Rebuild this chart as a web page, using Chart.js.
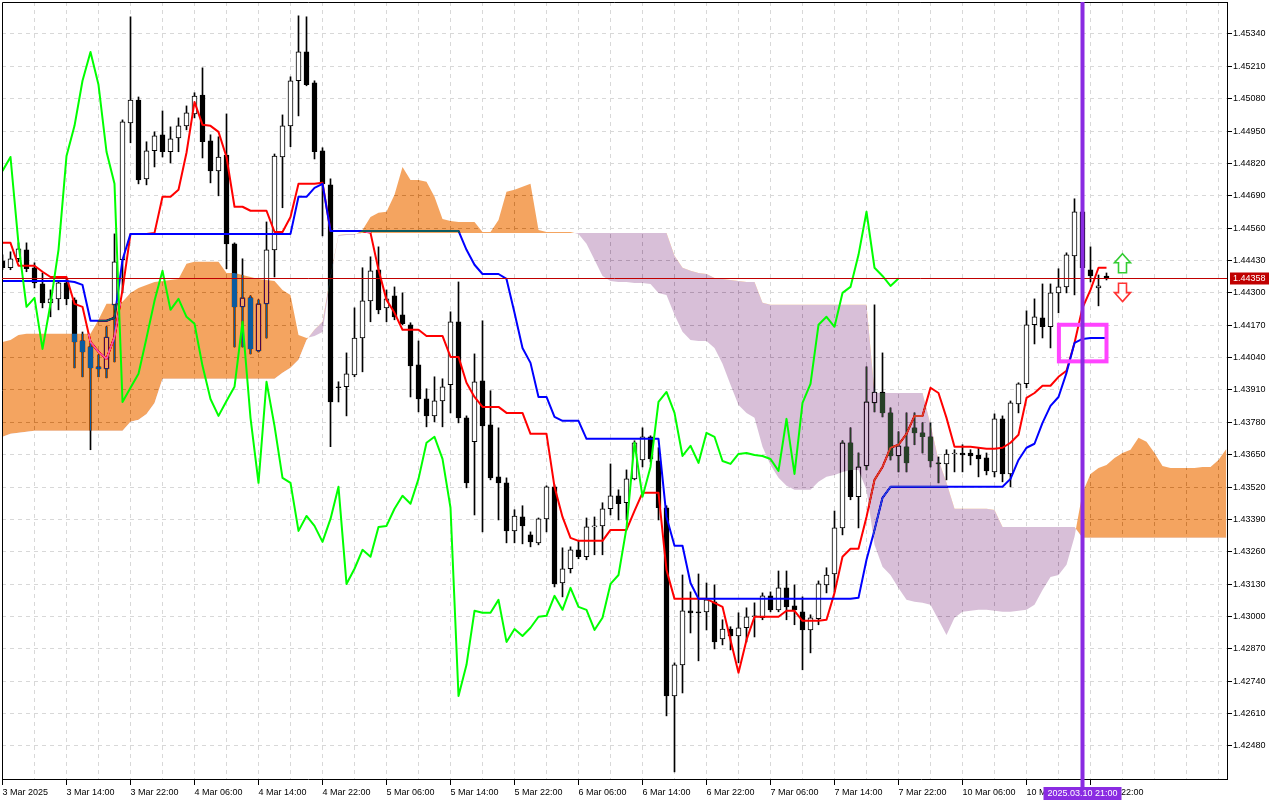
<!DOCTYPE html>
<html>
<head>
<meta charset="utf-8">
<title>GBPUSD-like Ichimoku H1</title>
<script src="https://cdn.jsdelivr.net/npm/chart.js@4.4.1/dist/chart.umd.min.js"></script>
<style>
  html, body { margin: 0; padding: 0; background: #fff; }
  canvas { display: block; }
</style>
</head>
<body>
<canvas id="chart" width="1280" height="800"></canvas>
<script>
// hourly candles, index 0 = 3 Mar 06:00
const opens = [
  1.44429, 1.44401, 1.44437, 1.44473, 1.44401, 1.44336, 1.44260, 1.44276, 1.44340, 1.44272,
  1.44107, 1.44083, 1.44003, 1.43995, 1.44252, 1.44433, 1.44983, 1.45075, 1.44758, 1.44871,
  1.44935, 1.44867, 1.44923, 1.44971, 1.45019, 1.45095, 1.44911, 1.44790, 1.44854, 1.44497,
  1.44244, 1.44280, 1.44067, 1.44256, 1.44473, 1.44846, 1.44971, 1.45152, 1.45268, 1.45144,
  1.44871, 1.44734, 1.43923, 1.43923, 1.43971, 1.44119, 1.44268, 1.44393, 1.44240, 1.44288,
  1.44212, 1.44172, 1.44011, 1.43874, 1.43806, 1.43866, 1.43931, 1.44184, 1.43798, 1.43702,
  1.43947, 1.43770, 1.43561, 1.43537, 1.43344, 1.43400, 1.43328, 1.43296, 1.43392, 1.43521,
  1.43135, 1.43192, 1.43268, 1.43240, 1.43360, 1.43364, 1.43433, 1.43485, 1.43457, 1.43553,
  1.43629, 1.43722, 1.43625, 1.43437, 1.42681, 1.42806, 1.43023, 1.43019, 1.43019, 1.43059,
  1.42910, 1.42950, 1.42922, 1.42955, 1.42999, 1.42995, 1.43083, 1.43027, 1.43115, 1.43043,
  1.43019, 1.42946, 1.42991, 1.43127, 1.43171, 1.43356, 1.43698, 1.43481, 1.43605, 1.43858,
  1.43902, 1.43818, 1.43645, 1.43682, 1.43758, 1.43738, 1.43722, 1.43617, 1.43613, 1.43653,
  1.43657, 1.43657, 1.43649, 1.43637, 1.43581, 1.43794, 1.43573, 1.43854, 1.43935, 1.44172,
  1.44200, 1.44164, 1.44300, 1.44324, 1.44449, 1.44626, 1.44393, 1.44320, 1.44368
];
const highs = [
  1.44453, 1.44465, 1.44501, 1.44501, 1.44421, 1.44380, 1.44312, 1.44348, 1.44356, 1.44280,
  1.44143, 1.44099, 1.44051, 1.44164, 1.44537, 1.44995, 1.45409, 1.45087, 1.44907, 1.44947,
  1.45031, 1.44967, 1.45003, 1.45051, 1.45104, 1.45204, 1.44935, 1.44927, 1.45019, 1.44501,
  1.44437, 1.44288, 1.44272, 1.44585, 1.44858, 1.45015, 1.45168, 1.45413, 1.45409, 1.45152,
  1.44883, 1.44758, 1.43943, 1.44059, 1.44240, 1.44401, 1.44445, 1.44485, 1.44312, 1.44324,
  1.44300, 1.44180, 1.44107, 1.43915, 1.43963, 1.43955, 1.44224, 1.44344, 1.43806, 1.44055,
  1.44188, 1.43907, 1.43758, 1.43557, 1.43429, 1.43445, 1.43340, 1.43396, 1.43525, 1.43529,
  1.43276, 1.43280, 1.43304, 1.43396, 1.43400, 1.43457, 1.43613, 1.43509, 1.43589, 1.43706,
  1.43758, 1.43726, 1.43678, 1.43445, 1.42814, 1.43167, 1.43099, 1.43171, 1.43135, 1.43127,
  1.42987, 1.42959, 1.43015, 1.43035, 1.43055, 1.43095, 1.43099, 1.43183, 1.43183, 1.43127,
  1.43079, 1.43007, 1.43143, 1.43196, 1.43424, 1.43706, 1.43758, 1.43657, 1.44003, 1.44252,
  1.44059, 1.43838, 1.43742, 1.43818, 1.43818, 1.43778, 1.43778, 1.43641, 1.43670, 1.43670,
  1.43690, 1.43670, 1.43678, 1.43657, 1.43814, 1.43806, 1.43866, 1.43939, 1.44228, 1.44276,
  1.44336, 1.44336, 1.44397, 1.44461, 1.44678, 1.44654, 1.44485, 1.44372, 1.44380
];
const lows = [
  1.44393, 1.44393, 1.44425, 1.44385, 1.44320, 1.44240, 1.44204, 1.44232, 1.44252, 1.43999,
  1.43963, 1.43670, 1.43963, 1.43959, 1.44023, 1.44300, 1.44903, 1.44738, 1.44734, 1.44806,
  1.44846, 1.44822, 1.44867, 1.44955, 1.45003, 1.44842, 1.44742, 1.44690, 1.44397, 1.44083,
  1.44083, 1.44055, 1.44063, 1.44119, 1.44364, 1.44642, 1.44887, 1.45011, 1.45132, 1.44838,
  1.44529, 1.43682, 1.43862, 1.43806, 1.43963, 1.43983, 1.44184, 1.44216, 1.44184, 1.44192,
  1.44172, 1.43882, 1.43822, 1.43762, 1.43782, 1.43762, 1.43818, 1.43778, 1.43517, 1.43408,
  1.43340, 1.43549, 1.43388, 1.43296, 1.43296, 1.43292, 1.43280, 1.43288, 1.43340, 1.43119,
  1.43079, 1.43175, 1.43232, 1.43228, 1.43248, 1.43248, 1.43408, 1.43388, 1.43388, 1.43549,
  1.43601, 1.43621, 1.43388, 1.42601, 1.42376, 1.42693, 1.42934, 1.42822, 1.42946, 1.42870,
  1.42886, 1.42866, 1.42814, 1.42898, 1.42918, 1.42987, 1.43019, 1.43019, 1.42987, 1.42967,
  1.42786, 1.42854, 1.42967, 1.43095, 1.43099, 1.43328, 1.43469, 1.43356, 1.43589, 1.43822,
  1.43802, 1.43629, 1.43581, 1.43581, 1.43690, 1.43657, 1.43601, 1.43537, 1.43549, 1.43581,
  1.43581, 1.43609, 1.43561, 1.43569, 1.43561, 1.43541, 1.43521, 1.43818, 1.43919, 1.44095,
  1.44119, 1.44079, 1.44220, 1.44300, 1.44292, 1.44385, 1.44344, 1.44248, 1.44352
];
const closes = [
  1.44401, 1.44437, 1.44477, 1.44397, 1.44340, 1.44260, 1.44276, 1.44340, 1.44276, 1.44103,
  1.44063, 1.43999, 1.43995, 1.44123, 1.44425, 1.44987, 1.45075, 1.44754, 1.44871, 1.44931,
  1.44867, 1.44919, 1.44971, 1.45023, 1.45091, 1.44907, 1.44790, 1.44846, 1.44497, 1.44244,
  1.44280, 1.44075, 1.44256, 1.44473, 1.44850, 1.44971, 1.45152, 1.45268, 1.45136, 1.44867,
  1.44738, 1.43862, 1.43919, 1.43975, 1.44119, 1.44268, 1.44389, 1.44232, 1.44276, 1.44204,
  1.44176, 1.44007, 1.43874, 1.43806, 1.43866, 1.43923, 1.44184, 1.43798, 1.43537, 1.43943,
  1.43766, 1.43557, 1.43537, 1.43344, 1.43404, 1.43364, 1.43300, 1.43392, 1.43521, 1.43131,
  1.43192, 1.43268, 1.43240, 1.43360, 1.43364, 1.43433, 1.43485, 1.43453, 1.43553, 1.43698,
  1.43722, 1.43633, 1.43437, 1.42681, 1.42806, 1.43023, 1.43015, 1.43015, 1.43067, 1.42898,
  1.42950, 1.42922, 1.42955, 1.42999, 1.43003, 1.43083, 1.43027, 1.43115, 1.43039, 1.43027,
  1.42946, 1.42995, 1.43131, 1.43167, 1.43356, 1.43698, 1.43481, 1.43601, 1.43862, 1.43902,
  1.43818, 1.43645, 1.43686, 1.43617, 1.43738, 1.43722, 1.43625, 1.43613, 1.43653, 1.43657,
  1.43649, 1.43645, 1.43633, 1.43585, 1.43794, 1.43573, 1.43858, 1.43935, 1.44172, 1.44204,
  1.44164, 1.44300, 1.44324, 1.44453, 1.44626, 1.44401, 1.44368, 1.44328, 1.44358
];

// Ichimoku lines
const tenkan = [
  1.44501, 1.44501, 1.44409, 1.44409, 1.44409, 1.44385, 1.44364, 1.44364, 1.44364, 1.44256,
  1.44244, 1.44103, 1.44063, 1.44035, 1.44123, 1.44312, 1.44537, 1.44537, 1.44537, 1.44541,
  1.44686, 1.44686, 1.44714, 1.44863, 1.45067, 1.44975, 1.44971, 1.44947, 1.44846, 1.44646,
  1.44646, 1.44630, 1.44630, 1.44630, 1.44545, 1.44545, 1.44605, 1.44738, 1.44738, 1.44738,
  1.44742, 1.44549, 1.44549, 1.44549, 1.44549, 1.44549, 1.44541, 1.44393, 1.44272, 1.44220,
  1.44152, 1.44152, 1.44152, 1.44127, 1.44127, 1.44127, 1.44043, 1.44043, 1.43939, 1.43882,
  1.43842, 1.43842, 1.43842, 1.43818, 1.43818, 1.43818, 1.43734, 1.43734, 1.43734, 1.43521,
  1.43400, 1.43316, 1.43304, 1.43304, 1.43304, 1.43304, 1.43348, 1.43348, 1.43348, 1.43424,
  1.43497, 1.43497, 1.43497, 1.43187, 1.43071, 1.43071, 1.43071, 1.43071, 1.43071, 1.43055,
  1.43039, 1.42906, 1.42774, 1.42906, 1.42999, 1.42999, 1.42999, 1.42999, 1.43023, 1.43023,
  1.42983, 1.42983, 1.42983, 1.42987, 1.43095, 1.43240, 1.43272, 1.43272, 1.43400, 1.43549,
  1.43601, 1.43678, 1.43690, 1.43734, 1.43806, 1.43806, 1.43919, 1.43898, 1.43798, 1.43682,
  1.43682, 1.43682, 1.43678, 1.43674, 1.43674, 1.43678, 1.43698, 1.43730, 1.43878, 1.43898,
  1.43927, 1.43927, 1.43963, 1.43987, 1.44099, 1.44240, 1.44312, 1.44401, 1.44401
];
const kijun = [
  1.44348, 1.44348, 1.44348, 1.44348, 1.44348, 1.44348, 1.44348, 1.44348, 1.44348, 1.44344,
  1.44332, 1.44188, 1.44188, 1.44188, 1.44200, 1.44433, 1.44537, 1.44537, 1.44537, 1.44537,
  1.44537, 1.44537, 1.44537, 1.44537, 1.44537, 1.44537, 1.44537, 1.44537, 1.44537, 1.44537,
  1.44537, 1.44537, 1.44537, 1.44537, 1.44537, 1.44537, 1.44537, 1.44686, 1.44686, 1.44722,
  1.44738, 1.44549, 1.44549, 1.44549, 1.44549, 1.44549, 1.44549, 1.44549, 1.44549, 1.44549,
  1.44549, 1.44549, 1.44549, 1.44549, 1.44549, 1.44549, 1.44549, 1.44549, 1.44473, 1.44413,
  1.44376, 1.44376, 1.44376, 1.44356, 1.44220, 1.44079, 1.44019, 1.43882, 1.43882, 1.43802,
  1.43786, 1.43786, 1.43786, 1.43714, 1.43714, 1.43714, 1.43714, 1.43714, 1.43714, 1.43714,
  1.43714, 1.43714, 1.43714, 1.43400, 1.43284, 1.43284, 1.43135, 1.43071, 1.43071, 1.43071,
  1.43071, 1.43071, 1.43071, 1.43071, 1.43071, 1.43071, 1.43071, 1.43071, 1.43071, 1.43071,
  1.43071, 1.43071, 1.43071, 1.43071, 1.43071, 1.43071, 1.43071, 1.43075, 1.43228, 1.43348,
  1.43477, 1.43521, 1.43521, 1.43521, 1.43521, 1.43521, 1.43521, 1.43521, 1.43521, 1.43521,
  1.43521, 1.43521, 1.43521, 1.43521, 1.43521, 1.43521, 1.43553, 1.43629, 1.43678, 1.43694,
  1.43778, 1.43846, 1.43882, 1.43979, 1.44099, 1.44115, 1.44119, 1.44119, 1.44119
];
// senkou spans (already shifted 26 bars forward, so they run past the last candle)
const spanA = [
  1.44103, 1.44111, 1.44131, 1.44136, 1.44136, 1.44136, 1.44136, 1.44136, 1.44136, 1.44136,
  1.44136, 1.44136, 1.44192, 1.44256, 1.44256, 1.44264, 1.44300, 1.44320, 1.44332, 1.44344,
  1.44348, 1.44352, 1.44356, 1.44417, 1.44425, 1.44425, 1.44425, 1.44425, 1.44380, 1.44380,
  1.44372, 1.44364, 1.44356, 1.44352, 1.44348, 1.44312, 1.44292, 1.44131, 1.44119, 1.44127,
  1.44143, 1.44360, 1.44529, 1.44533, 1.44533, 1.44553, 1.44605, 1.44622, 1.44626, 1.44694,
  1.44806, 1.44754, 1.44754, 1.44746, 1.44686, 1.44597, 1.44589, 1.44585, 1.44585, 1.44585,
  1.44545, 1.44545, 1.44593, 1.44706, 1.44714, 1.44726, 1.44738, 1.44553, 1.44545, 1.44545,
  1.44545, 1.44545, 1.44537, 1.44497, 1.44433, 1.44368, 1.44348, 1.44344, 1.44344, 1.44340,
  1.44340, 1.44336, 1.44300, 1.44292, 1.44212, 1.44144, 1.44111, 1.44107, 1.44107, 1.44079,
  1.44015, 1.43931, 1.43850, 1.43818, 1.43798, 1.43682, 1.43609, 1.43557, 1.43525, 1.43509,
  1.43509, 1.43509, 1.43541, 1.43561, 1.43569, 1.43581, 1.43589, 1.43589, 1.43509, 1.43288,
  1.43200, 1.43167, 1.43115, 1.43067, 1.43059, 1.43055, 1.43047, 1.42987, 1.42926, 1.42995,
  1.43019, 1.43023, 1.43027, 1.43027, 1.43023, 1.43019, 1.43019, 1.43023, 1.43027, 1.43047,
  1.43107, 1.43159, 1.43167, 1.43208, 1.43320, 1.43497, 1.43573, 1.43597, 1.43609, 1.43637,
  1.43657, 1.43670, 1.43718, 1.43702, 1.43657, 1.43605, 1.43597, 1.43597, 1.43597, 1.43597,
  1.43601, 1.43601, 1.43629, 1.43674
];
const spanB = [
  1.43722, 1.43734, 1.43738, 1.43742, 1.43746, 1.43746, 1.43746, 1.43746, 1.43746, 1.43746,
  1.43746, 1.43746, 1.43746, 1.43746, 1.43746, 1.43746, 1.43782, 1.43790, 1.43814, 1.43858,
  1.43955, 1.43955, 1.43955, 1.43955, 1.43955, 1.43955, 1.43955, 1.43955, 1.43955, 1.43955,
  1.43955, 1.43955, 1.43955, 1.43955, 1.43955, 1.43979, 1.43999, 1.44031, 1.44111, 1.44152,
  1.44184, 1.44368, 1.44533, 1.44537, 1.44537, 1.44541, 1.44541, 1.44541, 1.44541, 1.44541,
  1.44541, 1.44541, 1.44541, 1.44541, 1.44541, 1.44541, 1.44541, 1.44541, 1.44541, 1.44541,
  1.44541, 1.44541, 1.44541, 1.44541, 1.44541, 1.44541, 1.44541, 1.44541, 1.44541, 1.44541,
  1.44541, 1.44541, 1.44541, 1.44541, 1.44541, 1.44541, 1.44541, 1.44541, 1.44541, 1.44541,
  1.44541, 1.44541, 1.44541, 1.44541, 1.44449, 1.44401, 1.44389, 1.44380, 1.44376, 1.44360,
  1.44356, 1.44352, 1.44348, 1.44344, 1.44344, 1.44260, 1.44252, 1.44252, 1.44252, 1.44252,
  1.44252, 1.44252, 1.44252, 1.44252, 1.44252, 1.44252, 1.44252, 1.44252, 1.44252, 1.43898,
  1.43898, 1.43898, 1.43898, 1.43898, 1.43898, 1.43898, 1.43770, 1.43629, 1.43537, 1.43433,
  1.43433, 1.43433, 1.43433, 1.43433, 1.43428, 1.43360, 1.43360, 1.43360, 1.43360, 1.43360,
  1.43360, 1.43360, 1.43360, 1.43360, 1.43360, 1.43316, 1.43316, 1.43316, 1.43316, 1.43316,
  1.43316, 1.43316, 1.43316, 1.43316, 1.43316, 1.43316, 1.43316, 1.43316, 1.43316, 1.43316,
  1.43316, 1.43316, 1.43316, 1.43316
];
const CHIKOU_SHIFT = 26;

const priceTicks = [
  1.4248, 1.4261, 1.4274, 1.4287, 1.4300, 1.4313, 1.4326, 1.4339, 1.4352, 1.4365, 1.4378, 1.4391,
  1.4404, 1.4417, 1.4430, 1.4443, 1.4456, 1.4469, 1.4482, 1.4495, 1.4508, 1.4521, 1.4534
];
// one label every 8 bars, starting at bar 0
const timeLabels = [
  "3 Mar 2025", "3 Mar 14:00", "3 Mar 22:00", "4 Mar 06:00", "4 Mar 14:00", "4 Mar 22:00",
  "5 Mar 06:00", "5 Mar 14:00", "5 Mar 22:00", "6 Mar 06:00", "6 Mar 14:00", "6 Mar 22:00",
  "7 Mar 06:00", "7 Mar 14:00", "7 Mar 22:00", "10 Mar 06:00", "10 Mar 14:00", "10 Mar 22:00"
];

// annotations on the chart
const lastPrice = 1.44358;
const cursorBar = 135;
const cursorLabel = "2025.03.10 21:00";
const boxBars = [132.05, 138.0];
const boxPrices = [1.44172, 1.44025];
const arrowBar = 140;
const upArrow = [1.44381, 1.44457];   // tail, tip
const downArrow = [1.44339, 1.44265]; // tail, tip

const X_MIN = -0.0625, X_MAX = 153.0625;
const Y_MIN = 1.423474, Y_MAX = 1.454685;
const FONT = '"Liberation Sans", Arial, sans-serif';

// the cloud is drawn in 'difference' mode like the terminal does,
// so its fill colours are the inverse of what shows on white
const inverse = (r, g, b) => `rgb(${255 - r}, ${255 - g}, ${255 - b})`;
const CLOUD_UP = inverse(244, 164, 96);    // sandy brown
const CLOUD_DOWN = inverse(216, 191, 216); // thistle

const SPAN_B = 4, SPAN_A = 5;

const bars = closes.map((_, i) => i);
const pts = (arr) => arr.map((v, i) => ({ x: i, y: v }));
const labelFor = (v) => (v % 8 === 0 && timeLabels[v / 8]) ? timeLabels[v / 8] : '';

Chart.defaults.font.family = FONT;
Chart.defaults.font.size = 9;
Chart.defaults.color = '#000';

const mtPlugin = {
  id: 'mtPlugin',
  beforeDraw(chart) {
    const { ctx, width, height } = chart;
    ctx.save();
    ctx.fillStyle = '#fff';
    ctx.fillRect(0, 0, width, height);
    ctx.restore();
  },
  afterDatasetDraw(chart, args) {
    if (args.index === SPAN_B) chart.ctx.globalCompositeOperation = 'difference';
  },
  beforeDatasetDraw(chart, args) {
    // filler has already painted the cloud at this point
    if (args.index === SPAN_A) chart.ctx.globalCompositeOperation = 'source-over';
  },
  afterDatasetsDraw(chart) {
    const { ctx, chartArea: a, scales: { x, y } } = chart;
    ctx.save();
    ctx.globalCompositeOperation = 'source-over';

    // frame top / left
    ctx.strokeStyle = '#000';
    ctx.lineWidth = 1;
    ctx.beginPath();
    ctx.moveTo(a.left + 0.5, a.bottom);
    ctx.lineTo(a.left + 0.5, a.top + 0.5);
    ctx.lineTo(a.right, a.top + 0.5);
    ctx.stroke();

    // bid line
    const py = Math.round(y.getPixelForValue(lastPrice)) + 0.5;
    ctx.strokeStyle = '#c00000';
    ctx.beginPath();
    ctx.moveTo(a.left, py);
    ctx.lineTo(a.right, py);
    ctx.stroke();

    // magenta box
    const bx1 = x.getPixelForValue(boxBars[0]), bx2 = x.getPixelForValue(boxBars[1]);
    const by1 = y.getPixelForValue(boxPrices[0]), by2 = y.getPixelForValue(boxPrices[1]);
    ctx.strokeStyle = '#ff44ff';
    ctx.lineWidth = 4;
    ctx.strokeRect(bx1, by1, bx2 - bx1, by2 - by1);

    // arrows
    const drawArrow = (tailP, tipP, color) => {
      const cx = x.getPixelForValue(arrowBar);
      const tail = y.getPixelForValue(tailP), tip = y.getPixelForValue(tipP);
      const d = tip < tail ? 1 : -1;
      const neck = tip + d * 9;
      ctx.beginPath();
      ctx.moveTo(cx, tip);
      ctx.lineTo(cx + 8, neck);
      ctx.lineTo(cx + 4, neck);
      ctx.lineTo(cx + 4, tail);
      ctx.lineTo(cx - 4, tail);
      ctx.lineTo(cx - 4, neck);
      ctx.lineTo(cx - 8, neck);
      ctx.closePath();
      ctx.fillStyle = '#fff';
      ctx.fill();
      ctx.strokeStyle = color;
      ctx.lineWidth = 1.6;
      ctx.stroke();
    };
    drawArrow(upArrow[0], upArrow[1], '#33cc33');
    drawArrow(downArrow[0], downArrow[1], '#ff3333');

    // current bar line
    const vx = x.getPixelForValue(cursorBar);
    ctx.strokeStyle = '#8a2be2';
    ctx.lineWidth = 4;
    ctx.beginPath();
    ctx.moveTo(vx, a.top);
    ctx.lineTo(vx, a.bottom + 9);
    ctx.stroke();

    // price tag on the axis
    ctx.font = '9px ' + FONT;
    ctx.textBaseline = 'middle';
    ctx.fillStyle = '#c00000';
    ctx.fillRect(a.right + 3, py - 6, 39, 12);
    ctx.fillStyle = '#fff';
    ctx.textAlign = 'left';
    ctx.fillText(lastPrice.toFixed(5), a.right + 6, py);

    // time tag
    ctx.fillStyle = '#8a2be2';
    ctx.fillRect(vx - 39, a.bottom + 8, 78, 13);
    ctx.fillStyle = '#fff';
    ctx.textAlign = 'center';
    ctx.fillText(cursorLabel, vx, a.bottom + 14.5);
    ctx.restore();
  }
};

new Chart(document.getElementById('chart'), {
  type: 'line',
  data: {
    datasets: [
      {
        type: 'bar', label: 'wicks', order: 9, grouped: false,
        data: bars.map(i => ({ x: i, y: [lows[i], highs[i]] })),
        backgroundColor: '#000', barThickness: 1, borderWidth: 0
      },
      {
        type: 'bar', label: 'bodies', order: 8, grouped: false,
        data: bars.map(i => ({ x: i, y: [opens[i], closes[i]] })),
        backgroundColor: bars.map(i => closes[i] >= opens[i] ? '#fff' : '#000'),
        borderColor: '#000', borderWidth: 1, borderSkipped: false,
        barThickness: 5, minBarLength: 1
      },
      {
        label: 'Tenkan-sen', order: 7, data: pts(tenkan),
        borderColor: '#ff0000', borderWidth: 2, pointRadius: 0, borderJoinStyle: 'round', fill: false
      },
      {
        label: 'Kijun-sen', order: 6, data: pts(kijun),
        borderColor: '#0000ff', borderWidth: 2, pointRadius: 0, borderJoinStyle: 'round', fill: false
      },
      {
        label: 'Senkou Span B', order: 5, data: pts(spanB),
        borderColor: 'rgba(0,0,0,0)', borderWidth: 0, pointRadius: 0, fill: false
      },
      {
        label: 'Senkou Span A', order: 4, data: pts(spanA),
        borderColor: 'rgba(0,0,0,0)', borderWidth: 0, pointRadius: 0,
        fill: { target: SPAN_B, above: CLOUD_UP, below: CLOUD_DOWN }
      },
      {
        label: 'Chikou Span', order: 3, data: pts(closes.slice(CHIKOU_SHIFT)),
        borderColor: '#00ff00', borderWidth: 2, pointRadius: 0, borderJoinStyle: 'round', fill: false
      }
    ]
  },
  options: {
    responsive: false,
    devicePixelRatio: 1,
    animation: false,
    events: [],
    layout: { padding: { left: 2, top: 2, right: 0, bottom: 0 } },
    plugins: { legend: { display: false }, tooltip: { enabled: false } },
    scales: {
      x: {
        type: 'linear', min: X_MIN, max: X_MAX, offset: false,
        afterBuildTicks: (s) => { s.ticks = Array.from({ length: 39 }, (_, i) => ({ value: i * 4 })); },
        afterFit: (s) => { s.height = 21; s.paddingLeft = 0; s.paddingRight = 0; },
        ticks: {
          autoSkip: false, maxRotation: 0, minRotation: 0, align: 'start', padding: 2,
          callback: (v) => labelFor(v)
        },
        grid: {
          offset: false,
          color: '#d8d8d8', lineWidth: 1, tickLength: 6, tickBorderDash: [],
          tickColor: (c) => (c.tick && labelFor(c.tick.value)) ? '#000' : 'rgba(0,0,0,0)'
        },
        border: { color: '#000', width: 1, dash: [4, 4] }
      },
      y: {
        type: 'linear', position: 'right', min: Y_MIN, max: Y_MAX, beginAtZero: false,
        afterBuildTicks: (s) => { s.ticks = priceTicks.map(v => ({ value: v })); },
        afterFit: (s) => { s.width = 53; s.paddingTop = 0; s.paddingBottom = 0; },
        ticks: { padding: 1, callback: (v) => v.toFixed(5) },
        grid: { offset: false, color: '#d8d8d8', lineWidth: 1, tickLength: 5, tickColor: '#000', tickBorderDash: [] },
        border: { color: '#000', width: 1, dash: [4, 4] }
      }
    }
  },
  plugins: [mtPlugin]
});
</script>
</body>
</html>
